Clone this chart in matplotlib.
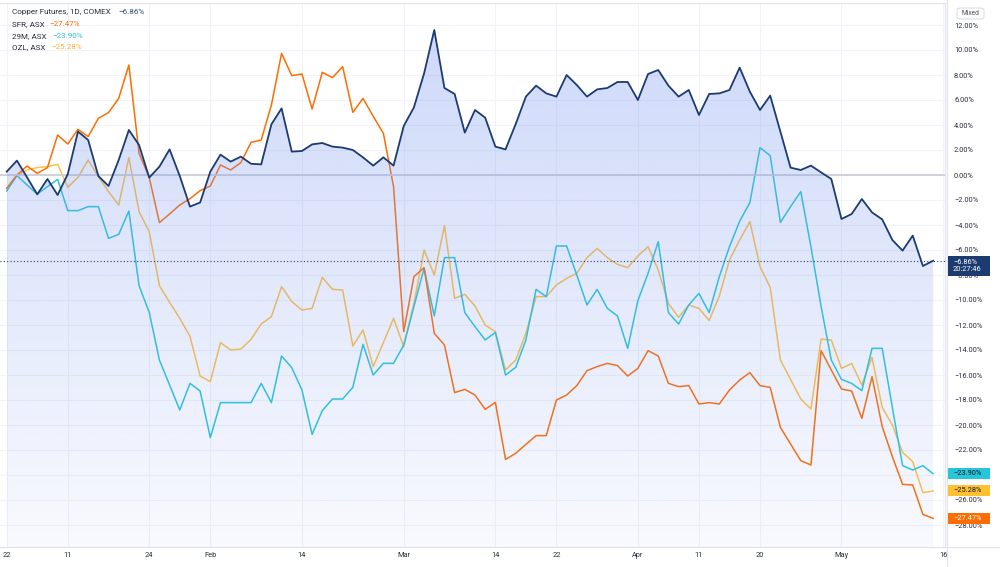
import numpy as np
import matplotlib.pyplot as plt
from matplotlib.patches import Rectangle, FancyBboxPatch

plt.rcParams['font.family'] = ['Roboto', 'DejaVu Sans']

# % change since start, one value per session
copper = [0.27, 1.15, -0.19, -1.55, -0.32, -1.6, 0.08, 3.47, 2.8, -0.08,
          -0.88, 1.2, 3.6, 2.4, -0.21, 0.67, 2.05, -0.08, -2.53, -2.2,
          0.27, 1.63, 1.07, 1.47, 0.9, 0.85, 4.05, 5.33, 1.87, 1.92,
          2.45, 2.56, 2.27, 2.19, 2.0, 1.41, 0.75, 1.41, 0.75, 3.92,
          5.41, 8.13, 11.6, 6.96, 6.48, 3.39, 5.2, 4.59, 2.27, 2.05,
          4.08, 6.27, 7.15, 6.53, 6.27, 8.0, 7.2, 6.27, 6.85, 6.96,
          7.44, 7.44, 6.0, 8.08, 8.4, 7.15, 6.27, 6.8, 4.8, 6.48,
          6.53, 6.8, 8.59, 6.67, 5.2, 6.35, 3.47, 0.59, 0.4, 0.75,
          0.21, -0.32, -3.52, -3.12, -1.92, -2.99, -3.55, -5.2, -6.05, -4.85,
          -7.28, -6.86]
sfr = [-1.07, 0.0, 0.72, 0.13, 0.59, 3.2, 2.48, 3.65, 3.07, 4.53,
       4.99, 6.13, 8.8, 1.73, -0.2, -3.81, -3.12, -2.4, -1.9, -1.25,
       -0.88, 0.8, 0.4, 0.99, 2.61, 2.8, 5.6, 9.73, 7.95, 8.08,
       5.28, 8.21, 7.79, 8.67, 5.01, 6.13, 4.7, 3.33, -0.93, -12.53,
       -8.13, -7.41, -12.67, -13.6, -17.41, -17.15, -17.6, -18.75, -18.19, -22.75,
       -22.27, -21.55, -20.85, -20.85, -18.0, -17.6, -16.85, -15.65, -15.33, -15.07,
       -15.25, -16.08, -15.47, -14.05, -14.48, -16.67, -16.93, -16.85, -18.32, -18.21,
       -18.32, -17.2, -16.4, -15.81, -16.85, -16.99, -20.19, -21.52, -22.85, -23.2,
       -14.05, -15.6, -17.12, -17.28, -19.47, -16.13, -20.13, -22.53, -24.75, -24.8,
       -27.15, -27.47]
m29 = [-1.28, -0.05, -0.8, -1.52, -0.93, -0.35, -2.85, -2.85, -2.53, -2.53,
       -5.07, -4.75, -2.88, -8.85, -10.99, -14.8, -16.8, -18.8, -16.67, -17.28,
       -21.01, -18.21, -18.21, -18.21, -18.21, -16.67, -18.21, -14.48, -15.41, -17.2,
       -20.75, -18.85, -17.92, -17.92, -16.99, -13.55, -16.0, -15.07, -15.07, -13.6,
       -10.53, -7.47, -11.28, -6.61, -6.61, -11.01, -12.13, -13.2, -12.59, -16.0,
       -15.39, -13.2, -9.15, -9.73, -5.68, -5.68, -8.0, -10.4, -9.15, -10.67,
       -11.28, -13.87, -10.05, -7.87, -5.33, -11.01, -11.92, -10.4, -9.47, -11.01,
       -8.13, -5.73, -3.7, -2.21, 2.19, 1.55, -3.79, -2.53, -1.33, -5.73,
       -10.53, -14.8, -16.35, -16.67, -17.25, -13.87, -13.87, -18.6, -23.25, -23.6,
       -23.25, -23.9]
ozl = [-1.07, -0.05, 0.4, 0.59, 0.67, 0.85, -0.99, -0.19, 1.2, -0.13,
       -1.33, -2.4, 1.39, -2.93, -4.53, -8.85, -10.19, -11.47, -12.9, -16.08,
       -16.53, -13.41, -14.0, -13.92, -13.15, -11.92, -11.33, -8.93, -10.13, -10.8,
       -10.67, -8.19, -9.15, -9.2, -13.68, -12.4, -15.33, -13.41, -11.47, -13.73,
       -10.27, -6.0, -8.0, -4.05, -9.87, -9.55, -10.48, -12.0, -12.53, -15.6,
       -14.8, -12.67, -9.73, -9.73, -8.8, -8.27, -7.87, -6.61, -5.87, -6.61,
       -7.15, -7.41, -6.48, -5.73, -7.6, -10.27, -11.39, -10.4, -10.67, -11.65,
       -9.68, -6.8, -5.2, -3.73, -7.33, -8.99, -14.8, -16.35, -17.92, -18.72,
       -13.12, -13.2, -15.47, -15.07, -16.8, -14.59, -18.59, -20.0, -22.19, -22.93,
       -25.41, -25.28]

tick_pos = [0, 6, 14, 20, 29, 39, 48, 54, 62, 68, 74, 82, 92]
tick_lab = ['22', '11', '24', 'Feb', '14', 'Mar', '14', '22', 'Apr', '11', '20', 'May', '16']
y_ticks = list(range(-28, 13, 2))

names = ['Copper Futures, 1D, COMEX', 'SFR, ASX', '29M, ASX', 'OZL, ASX']
last_vals = [copper[-1], sfr[-1], m29[-1], ozl[-1]]

NAVY = '#1c3b70'
ORANGE = '#ff6d00'
CYAN = '#26c6da'
GOLD = '#ffc148'
TXT = '#2a2e39'
GRID = '#f0f3fa'


def pct(v):
    return f"{v:.2f}%".replace('-', '\u2212')


fig = plt.figure(figsize=(10, 5.67), dpi=100)
ax = fig.add_axes([0, 20 / 567, 0.945, 544 / 567])

x = np.arange(len(copper))
ybot, ytop = -29.76, 13.76

# comparison lines (under the area fill)
ax.plot(x, ozl, color=GOLD, lw=1.1, zorder=2)
ax.plot(x, m29, color=CYAN, lw=1.1, zorder=2)
ax.plot(x, sfr, color=ORANGE, lw=1.1, zorder=2)

ax.axhline(0, color='#c9ccd4', lw=1.2, zorder=2.5)

# gradient area under the main series
poly = ax.fill_between(x, copper, ybot, facecolor='none', edgecolor='none')
grad = np.zeros((256, 1, 4))
grad[..., :3] = np.array([120, 150, 240]) / 255
grad[:, 0, 3] = np.linspace(0.36, 0.05, 256)
im = ax.imshow(grad, aspect='auto', extent=[0, x[-1], ybot, max(copper)],
               origin='upper', zorder=3, interpolation='bilinear')
im.set_clip_path(poly.get_paths()[0], transform=ax.transData)

ax.plot(x, copper, color=NAVY, lw=1.3, zorder=4)
ax.axhline(copper[-1], color=NAVY, lw=0.8, ls=(0, (1, 2)), zorder=4)

ax.set_xlim(-0.66, 92.17)
ax.set_ylim(ybot, ytop)
ax.set_xticks(tick_pos)
ax.set_xticklabels(tick_lab)
ax.yaxis.tick_right()
ax.set_yticks(y_ticks)
ax.set_yticklabels([pct(v) for v in y_ticks])
ax.tick_params(axis='both', length=0, labelsize=5.3, colors=TXT)
ax.tick_params(axis='y', pad=6.5)
ax.tick_params(axis='x', pad=3.5)
for v, lab in zip(y_ticks, ax.get_yticklabels()):
    lab.set_horizontalalignment('left')
    if v == -24:  # fully covered by the 29M price tag
        lab.set_visible(False)
ax.grid(True, color=GRID, lw=0.8, zorder=0)
ax.set_axisbelow(True)
ax.spines['left'].set_visible(False)
for s in ['right', 'bottom', 'top']:
    ax.spines[s].set_color('#e0e3eb')
    ax.spines[s].set_linewidth(0.8)

# axis frame pieces outside the plot
fig.add_artist(plt.Line2D([0, 1], [1 - 547 / 567] * 2, color='#e0e3eb', lw=0.8))
fig.add_artist(plt.Line2D([0.947] * 2, [0, 1], color='#e0e3eb', lw=0.8))

# legend block top-left
leg_y = [12, 24, 36, 47]
val_x = [118, 49, 52, 51]
val_col = ['#2f4a7f', ORANGE, CYAN, '#ffb22e']
for nm, v, yy, vx, c in zip(names, last_vals, leg_y, val_x, val_col):
    fig.text(12 / 1000, 1 - yy / 567, nm, fontsize=5.8, color=TXT, va='center')
    fig.text(vx / 1000, 1 - yy / 567, pct(v), fontsize=5.8, color=c, va='center')

# "Mixed" button
fig.add_artist(FancyBboxPatch((957 / 1000, 1 - 19 / 567), 27 / 1000, 11 / 567,
                              boxstyle='round,pad=0,rounding_size=0.004',
                              transform=fig.transFigure, facecolor='white',
                              edgecolor='#d1d4dc', lw=0.6))
fig.text(970.5 / 1000, 1 - 13.5 / 567, 'Mixed', fontsize=4.8, color='#50535e',
         ha='center', va='center')

# price tags on the right scale
fig.canvas.draw()


def tag(v, text, bg, fg, h=11, top=None):
    yd = ax.transData.transform((0, v))[1]
    if top is None:
        y0 = yd - h / 2
    else:
        y0 = yd + top - h
    fig.add_artist(Rectangle((948 / 1000, y0 / 567), 42 / 1000, h / 567,
                             transform=fig.transFigure, facecolor=bg,
                             edgecolor='none', zorder=5))
    fig.text(953 / 1000, (y0 + h / 2) / 567, text, fontsize=5.3, color=fg,
             va='center', ha='left', zorder=6, linespacing=1.15)


tag(copper[-1], pct(copper[-1]) + '\n20:27:46', NAVY, 'white', h=20.5, top=5)
tag(m29[-1], pct(m29[-1]), CYAN, '#131722')
tag(ozl[-1], pct(ozl[-1]), '#ffc12f', '#131722')
tag(sfr[-1], pct(sfr[-1]), ORANGE, 'white')

fig.savefig('out.png', dpi=100)
